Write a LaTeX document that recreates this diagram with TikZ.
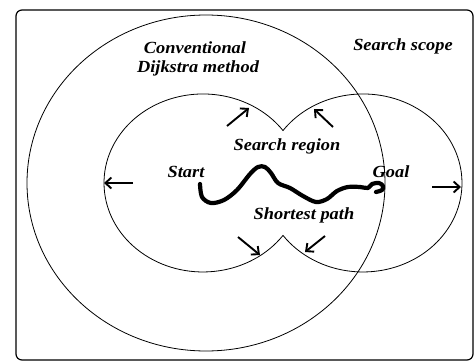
\documentclass[tikz,border=0pt]{standalone}
\usepackage{fontspec}
\setmainfont{Liberation Serif}[FakeStretch=1.08]
\usetikzlibrary{arrows.meta}
\tikzset{
  frame/.style={line width=1.2pt, rounded corners=6pt},
  ring/.style={line width=0.8pt},
  growarrow/.style={line width=1.9pt, -{Straight Barb[length=6pt,width=11pt]}},
  route/.style={line width=4.2pt, line cap=round, line join=round},
  lbl/.style={anchor=base, inner sep=0pt, font=\fontsize{17}{20}\selectfont\bfseries\itshape}
}
\begin{document}
\begin{tikzpicture}[x=1pt,y=-1pt]
\useasboundingbox (0,0) rectangle (475,362);
% outer frame
\draw[frame] (16,10) rectangle (473,360);
% conventional Dijkstra search scope
\draw[ring] (206,183) ellipse [x radius=179, y radius=168];
% merged outline of the two search regions (start side, then goal side)
\draw[ring] (283,235.4)
  arc[start angle=36.1, end angle=323.9, x radius=99, y radius=89]
  arc[start angle=216.1, end angle=503.9, x radius=99, y radius=89] -- cycle;
% growth arrows
\coordinate (l1) at (133,183); \coordinate (l2) at (104,183);
\coordinate (r1) at (432,187); \coordinate (r2) at (461,187);
\coordinate (tl1) at (227,126); \coordinate (tl2) at (249,108);
\coordinate (tr1) at (333,127); \coordinate (tr2) at (314,109);
\coordinate (bl1) at (238,237); \coordinate (bl2) at (260,255);
\coordinate (br1) at (325,236); \coordinate (br2) at (305,252);
\draw[growarrow] (l1) -- (l2);
\draw[growarrow] (r1) -- (r2);
\draw[growarrow] (tl1) -- (tl2);
\draw[growarrow] (tr1) -- (tr2);
\draw[growarrow] (bl1) -- (bl2);
\draw[growarrow] (br1) -- (br2);
% shortest path from start to goal
\draw[route] plot[smooth, tension=0.55] coordinates {
  (200,184) (202,197) (211,203) (224,200) (237,190) (250,174) (258,167)
  (265,167) (271,173) (278,183) (290,188) (303,196) (316,202) (327,199)
  (337,191) (348,187) (360,187) (368,188) (372,184) (379,183) (383,186)
  (382,190) (376,192)};
% labels
\node[lbl] (conv) at (195,53) {Conventional};
\node[lbl] (dijk) at (198,72) {Dijkstra method};
\node[lbl] (scope) at (403,50) {Search scope};
\node[lbl] (region) at (287,150) {Search region};
\node[lbl] (start) at (186,177) {Start};
\node[lbl] (goal) at (391,177) {Goal};
\node[lbl] (sp) at (304,219) {Shortest path};
\end{tikzpicture}
\end{document}
